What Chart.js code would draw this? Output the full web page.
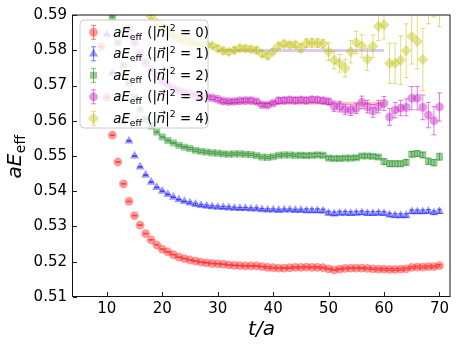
<!DOCTYPE html>
<html><head><meta charset="utf-8">
<script src="https://cdn.jsdelivr.net/npm/chart.js@4/dist/chart.umd.min.js"></script>
<style>html,body{margin:0;padding:0;background:#fff}#wrap{width:458px;height:350px}</style>
</head><body><div id="wrap"><canvas id="c" width="458" height="350"></canvas></div>
<script>
// ---- data ----
const times = [9,10,11,12,13,14,15,16,17,18,19,20,21,22,23,24,25,26,27,28,29,30,31,32,33,34,35,36,37,38,39,40,41,42,43,44,45,46,47,48,49,50,51,52,53,54,55,56,57,58,59,60,61,62,63,64,65,66,67,68,69,70];
const momenta = [0,1,2,3,4];
const xTicks = [10,20,30,40,50,60,70];
const yTicks = [0.51,0.52,0.53,0.54,0.55,0.56,0.57,0.58,0.59];

const E0 = [.5810,.5666,.5559,.5483,.5421,.5371,.5331,.5304,.5280,.5262,
 .5248,.5236,.5228,.5220,.5213,.5209,.5205,.5202,.5199,.5197,
 .5195,.5194,.5193,.5191,.5190,.5189,.5188,.5188,.5188,.5186,
 .5184,.5183,.5182,.5182,.5183,.5184,.5184,.5185,.5184,.5184,
 .5183,.5180,.5177,.5179,.5181,.5182,.5182,.5182,.5181,.5180,
 .5179,.5179,.5178,.5178,.5179,.5180,.5184,.5185,.5185,.5186,
 .5186,.5189];
const ERR0 = [.0001,.0001,.0001,.0001,.0001,.0001,.0001,.0001,.0001,.0001,
 .0001,.0001,.0001,.0001,.0001,.0001,.0001,.0001,.0001,.0001,
 .0001,.0001,.0001,.0001,.0001,.0001,.0001,.0001,.0001,.0001,
 .0002,.0002,.0002,.0002,.0002,.0002,.0002,.0002,.0002,.0002,
 .0002,.0002,.0002,.0002,.0002,.0002,.0002,.0002,.0002,.0002,
 .0003,.0003,.0003,.0003,.0003,.0003,.0003,.0003,.0003,.0003,
 .0003,.0003];

const E1 = [null,.5845,.5735,.5665,.5598,.5543,.5500,.5469,.5446,.5426,
 .5411,.5400,.5391,.5383,.5376,.5371,.5367,.5363,.5360,.5358,
 .5356,.5355,.5354,.5353,.5352,.5351,.5351,.5350,.5350,.5348,
 .5347,.5347,.5346,.5347,.5347,.5346,.5346,.5345,.5345,.5345,
 .5344,.5338,.5336,.5338,.5338,.5337,.5338,.5339,.5337,.5337,
 .5338,.5337,.5333,.5331,.5331,.5331,.5342,.5342,.5342,.5343,
 .5339,.5343];
const ERR1 = [null,.0001,.0001,.0001,.0001,.0001,.0001,.0001,.0001,.0001,
 .0001,.0001,.0001,.0001,.0001,.0001,.0003,.0003,.0003,.0003,
 .0003,.0003,.0003,.0003,.0003,.0003,.0003,.0003,.0003,.0003,
 .0003,.0003,.0003,.0003,.0003,.0003,.0003,.0005,.0005,.0005,
 .0005,.0005,.0005,.0005,.0005,.0005,.0005,.0005,.0005,.0005,
 .0005,.0005,.0005,.0005,.0005,.0005,.0005,.0005,.0005,.0005,
 .0005,.0006];

const E2 = [null,null,.5895,.5822,.5757,.5707,.5667,.5632,.5606,.5585,
 .5568,.5554,.5544,.5537,.5530,.5525,.5521,.5516,.5513,.5511,
 .5509,.5508,.5506,.5505,.5506,.5506,.5505,.5504,.5501,.5497,
 .5496,.5498,.5502,.5503,.5503,.5502,.5502,.5501,.5502,.5503,
 .5502,.5494,.5493,.5493,.5494,.5494,.5495,.5500,.5500,.5499,
 .5497,.5484,.5478,.5478,.5478,.5482,.5505,.5507,.5503,.5485,
 .5481,.5498];
const ERR2 = [null,null,.0002,.0002,.0002,.0002,.0002,.0002,.0002,.0002,
 .0002,.0002,.0002,.0002,.0002,.0002,.0003,.0003,.0003,.0003,
 .0003,.0003,.0003,.0003,.0003,.0003,.0003,.0003,.0003,.0003,
 .0003,.0003,.0003,.0003,.0003,.0003,.0005,.0005,.0005,.0005,
 .0005,.0005,.0005,.0005,.0005,.0005,.0005,.0005,.0005,.0005,
 .0005,.0008,.0008,.0008,.0008,.0008,.0008,.0008,.0008,.0009,
 .0009,.0010];

const E3 = [null,null,null,null,null,.5862,.5822,.5791,.5766,.5744,
 .5726,.5712,.5701,.5693,.5686,.5680,.5676,.5672,.5669,.5667,
 .5665,.5661,.5656,.5654,.5655,.5657,.5658,.5658,.5654,.5645,
 .5644,.5650,.5657,.5658,.5659,.5658,.5659,.5658,.5660,.5659,
 .5657,.5654,.5641,.5640,.5632,.5630,.5635,.5652,.5640,.5628,
 .5640,.5649,.5611,.5630,.5636,.5638,.5664,.5664,.5638,.5616,
 .5600,.5639];
const ERR3 = [null,null,null,null,null,.0003,.0003,.0003,.0003,.0003,
 .0003,.0003,.0003,.0003,.0003,.0003,.0003,.0003,.0003,.0003,
 .0005,.0005,.0005,.0005,.0005,.0005,.0005,.0005,.0005,.0005,
 .0005,.0005,.0008,.0008,.0008,.0008,.0008,.0008,.0008,.0008,
 .0008,.0008,.0015,.0015,.0015,.0015,.0015,.0018,.0018,.0018,
 .0018,.0020,.0024,.0022,.0022,.0024,.0033,.0033,.0035,.0036,
 .0040,.0040];

const E4 = [null,null,null,null,null,null,null,null,null,.5895,
 .5878,.5862,.5849,.5840,.5833,.5827,.5822,.5820,.5818,.5816,
 .5813,.5805,.5798,.5795,.5800,.5806,.5805,.5803,.5800,.5790,
 .5784,.5797,.5812,.5818,.5815,.5816,.5806,.5820,.5821,.5820,
 .5818,.5796,.5772,.5763,.5749,.5796,.5822,.5812,.5774,.5811,
 .5868,.5872,.5763,.5763,.5772,.5799,.5839,.5825,.5774,.5960,
 .5960,.5940];
const ERR4 = [null,null,null,null,null,null,null,null,null,.0005,
 .0005,.0005,.0005,.0005,.0005,.0005,.0005,.0005,.0005,.0005,
 .0005,.0008,.0008,.0008,.0008,.0008,.0008,.0008,.0008,.0008,
 .0008,.0008,.0008,.0008,.0008,.0008,.0012,.0012,.0012,.0012,
 .0012,.0025,.0025,.0025,.0025,.0032,.0032,.0032,.0032,.0032,
 .0040,.0040,.0057,.0057,.0069,.0076,.0078,.0078,.0088,.0085,
 .0066,.0073];

const fitRange = [30, 60];
const fit3 = 0.5650;
const fit4 = 0.5799;

// ---- styles ----
const seriesStyle = [
  {rgb:[255,0,0],   shape:'circle',   r:4.4},
  {rgb:[0,0,255],   shape:'triangle', r:5.2},
  {rgb:[0,128,0],   shape:'rect',     r:5},
  {rgb:[191,0,191], shape:'circle',   r:4.4},
  {rgb:[191,191,0], shape:'rectRot',  r:5.6}
];
const rgba = (c,a) => `rgba(${c[0]},${c[1]},${c[2]},${a})`;
const FONT = '"DejaVu Sans", sans-serif';

function build(vals, errs){
  const data=[], e=[];
  times.forEach((t,i)=>{ if(vals[i]!==null){ data.push({x:t,y:vals[i]}); e.push(errs[i]); } });
  return {data, errors:e};
}
const allE = [E0,E1,E2,E3,E4], allErr=[ERR0,ERR1,ERR2,ERR3,ERR4];
const datasets = allE.map((v,k)=>{
  const b = build(v, allErr[k]); const s = seriesStyle[k];
  return {
    type:'scatter', label:'n2='+momenta[k], data:b.data, errors:b.errors,
    errColor: rgba(s.rgb,0.5),
    pointStyle:s.shape, pointRadius:s.r, pointHoverRadius:s.r,
    backgroundColor: rgba(s.rgb,0.4), borderColor: rgba(s.rgb,0.4), borderWidth:0,
    order: 5-k
  };
});
datasets.push({type:'line', label:'fit3', data:[{x:fitRange[0],y:fit3},{x:fitRange[1],y:fit3}],
  borderColor:'rgba(250,140,110,0.45)', borderWidth:3, pointRadius:0, order:10});
datasets.push({type:'line', label:'fit4', data:[{x:fitRange[0],y:fit4},{x:fitRange[1],y:fit4}],
  borderColor:'rgba(170,140,230,0.45)', borderWidth:3, pointRadius:0, order:10});

function drawMarker(ctx, shape, x, y, r){
  ctx.beginPath();
  if(shape==='circle'){ ctx.arc(x,y,r,0,Math.PI*2); }
  else if(shape==='triangle'){
    let a=0; ctx.moveTo(x+Math.sin(a)*r, y-Math.cos(a)*r);
    a+=2*Math.PI/3; ctx.lineTo(x+Math.sin(a)*r, y-Math.cos(a)*r);
    a+=2*Math.PI/3; ctx.lineTo(x+Math.sin(a)*r, y-Math.cos(a)*r); ctx.closePath();
  } else if(shape==='rect'){ const s=Math.SQRT1_2*r; ctx.rect(x-s,y-s,2*s,2*s); }
  else if(shape==='rectRot'){ ctx.moveTo(x,y-r); ctx.lineTo(x+r,y); ctx.lineTo(x,y+r); ctx.lineTo(x-r,y); ctx.closePath(); }
  ctx.fill();
}
function vbar(ctx, x, y1, y2, cap){
  ctx.beginPath(); ctx.moveTo(x,y1); ctx.lineTo(x,y2); ctx.stroke();
  ctx.beginPath(); ctx.moveTo(x-cap,y1); ctx.lineTo(x+cap,y1); ctx.stroke();
  ctx.beginPath(); ctx.moveTo(x-cap,y2); ctx.lineTo(x+cap,y2); ctx.stroke();
}

const errPlugin = {
  id:'errbars',
  afterDatasetsDraw(chart){
    const ctx=chart.ctx, ca=chart.chartArea, xs=chart.scales.x, ys=chart.scales.y;
    ctx.save(); ctx.beginPath(); ctx.rect(ca.left,ca.top,ca.right-ca.left,ca.bottom-ca.top); ctx.clip();
    ctx.lineWidth=1;
    chart.data.datasets.forEach(ds=>{
      if(!ds.errors) return;
      ctx.strokeStyle=ds.errColor;
      ds.data.forEach((p,i)=>{
        const e=ds.errors[i], px=xs.getPixelForValue(p.x);
        vbar(ctx, px, ys.getPixelForValue(p.y-e), ys.getPixelForValue(p.y+e), 2.5);
      });
    });
    ctx.restore();
  },
  afterDraw(chart){
    const ctx=chart.ctx, ca=chart.chartArea, xs=chart.scales.x, ys=chart.scales.y;
    ctx.save();
    // frame
    ctx.strokeStyle='#111'; ctx.lineWidth=1;
    ctx.strokeRect(ca.left-0.5, ca.top, ca.right-ca.left+0.5, ca.bottom-ca.top-0.5);
    // inward ticks
    ctx.strokeStyle='#222';
    xTicks.forEach(v=>{ const px=Math.round(xs.getPixelForValue(v))+0.5; ctx.beginPath(); ctx.moveTo(px,ca.bottom-1); ctx.lineTo(px,ca.bottom-5); ctx.stroke(); });
    yTicks.forEach(v=>{ const py=Math.round(ys.getPixelForValue(v))+0.5; ctx.beginPath(); ctx.moveTo(ca.left,py); ctx.lineTo(ca.left+4,py); ctx.stroke(); });
    // y title
    ctx.fillStyle='#000'; ctx.textBaseline='alphabetic'; ctx.textAlign='left';
    ctx.save(); ctx.translate(21, (ca.top+ca.bottom)/2+1); ctx.rotate(-Math.PI/2);
    const f1='italic 20px '+FONT, f2='14px '+FONT;
    ctx.font=f1; const wa=ctx.measureText('aE').width;
    ctx.font=f2; const wb=ctx.measureText('eff').width;
    const x0=-(wa+wb)/2;
    ctx.font=f1; ctx.fillText('aE',x0,0);
    ctx.font=f2; ctx.fillText('eff',x0+wa+0.5,4);
    ctx.restore();
    // legend
    const L={x:80,y:20,w:128,h:108,r:4};
    ctx.beginPath();
    ctx.moveTo(L.x+L.r,L.y); ctx.arcTo(L.x+L.w,L.y,L.x+L.w,L.y+L.h,L.r); ctx.arcTo(L.x+L.w,L.y+L.h,L.x,L.y+L.h,L.r);
    ctx.arcTo(L.x,L.y+L.h,L.x,L.y,L.r); ctx.arcTo(L.x,L.y,L.x+L.w,L.y,L.r); ctx.closePath();
    ctx.fillStyle='rgba(255,255,255,0.8)'; ctx.fill();
    ctx.strokeStyle='rgba(204,204,204,1)'; ctx.lineWidth=1; ctx.stroke();
    momenta.forEach((m,k)=>{
      const s=seriesStyle[k]; const cy=32.3+k*21.5, mx=93.5;
      ctx.fillStyle=rgba(s.rgb,0.4); drawMarker(ctx,s.shape,mx,cy,s.r);
      ctx.strokeStyle=rgba(s.rgb,0.5); ctx.lineWidth=1; vbar(ctx,mx,cy-7,cy+7,2.5);
      let x=113.3; const base=cy+4.6;
      const I13='italic 13.3px '+FONT, R13='13.3px '+FONT, R9='9.3px '+FONT;
      const seg=(txt,font,dy)=>{ ctx.font=font; ctx.fillStyle='#000'; ctx.fillText(txt,x,base+dy); const w=ctx.measureText(txt).width; x+=w; return w; };
      seg('a',I13,0); seg('E',I13,0); seg('eff',R9,3); x+=1;
      seg(' (',R13,0); seg('|',R13,0);
      const nx=x; const nw=seg('n',I13,0);
      ctx.font='9px '+FONT; const aw=ctx.measureText('\u2192').width; ctx.fillText('\u2192', nx+nw/2-aw/2+1.2, base-7.5);
      seg('|',R13,0); seg('2',R9,-5.5); seg(' = ',R13,0); seg(String(m)+')',R13,0);
    });
    ctx.restore();
  }
};

new Chart(document.getElementById('c'), {
  type:'scatter',
  data:{datasets},
  options:{
    responsive:false, animation:false, devicePixelRatio:1,
    layout:{padding:{left:0,right:8,top:14,bottom:0}},
    plugins:{legend:{display:false}, tooltip:{enabled:false}},
    scales:{
      x:{type:'linear', min:3.9, max:71.9,
        grid:{display:false, drawTicks:false}, border:{display:false},
        afterBuildTicks:(sc)=>{ sc.ticks = xTicks.map(v=>({value:v})); },
        afterFit:(sc)=>{ sc.height=53; },
        ticks:{autoSkip:false, maxRotation:0, padding:3, color:'#000', font:{family:FONT,size:15}, callback:(v)=>String(v)},
        title:{display:true, text:'t/a', color:'#000', font:{family:FONT,size:20,style:'italic'}, padding:{top:0,bottom:8}}
      },
      y:{min:0.51, max:0.59,
        grid:{display:false, drawTicks:false}, border:{display:false},
        afterBuildTicks:(sc)=>{ sc.ticks = yTicks.map(v=>({value:v})); },
        afterFit:(sc)=>{ sc.width=73; },
        ticks:{autoSkip:false, padding:6, color:'#000', font:{family:FONT,size:15}, callback:(v)=>v.toFixed(2)}
      }
    }
  },
  plugins:[errPlugin]
});
</script>
</body></html>
